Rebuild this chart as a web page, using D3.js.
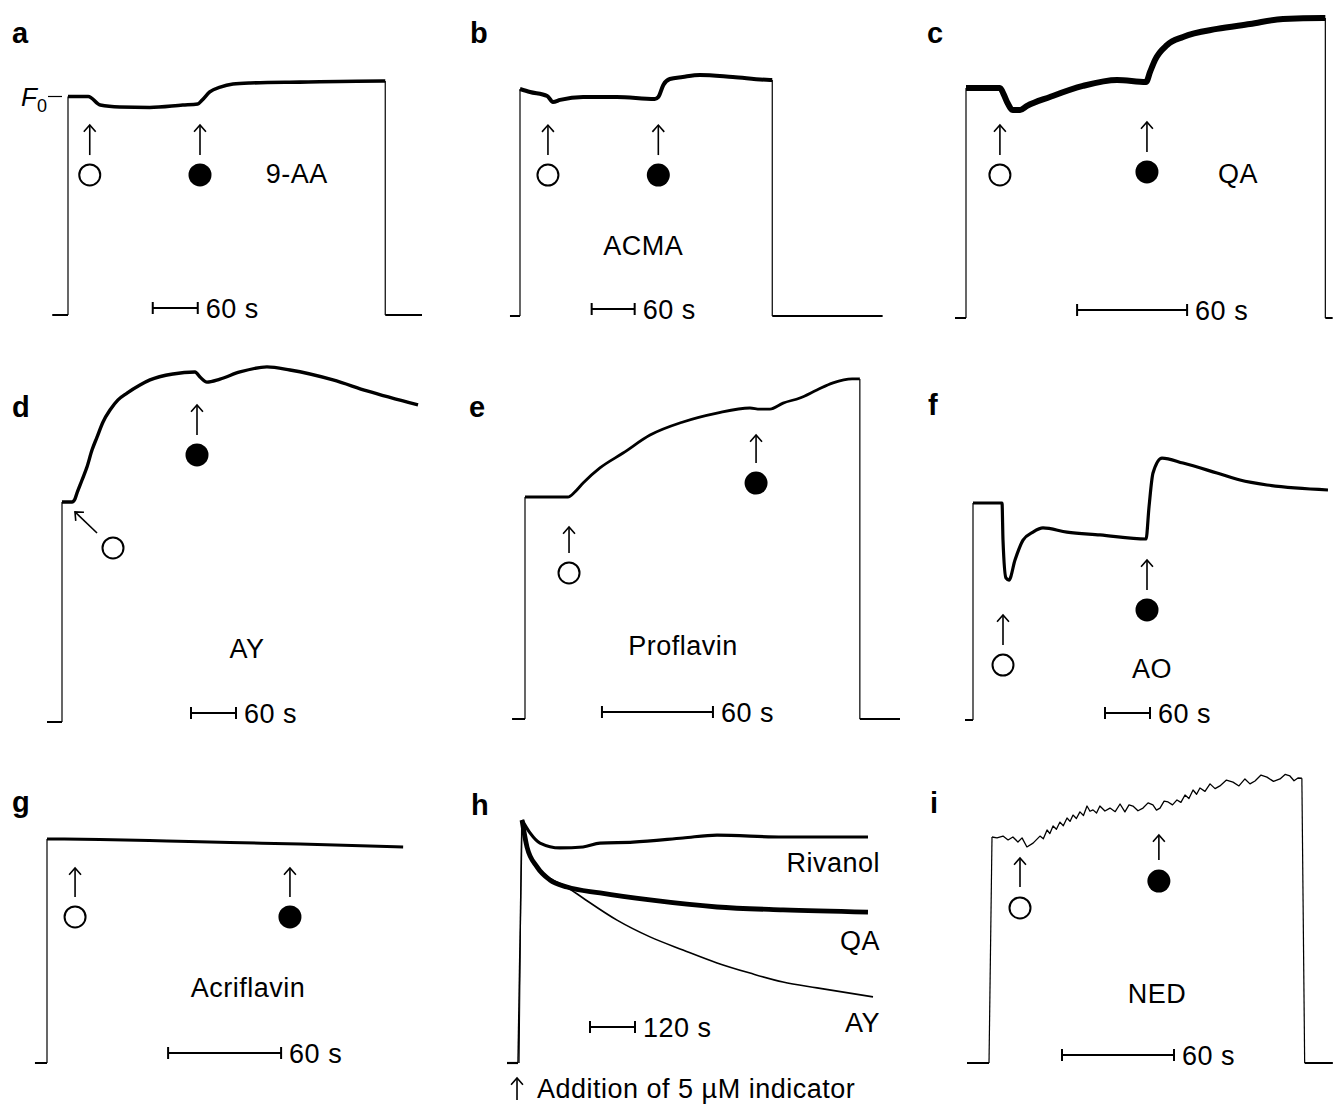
<!DOCTYPE html>
<html><head><meta charset="utf-8">
<script src="https://cdn.jsdelivr.net/npm/d3@7"></script>
<style>body{margin:0;background:#fff}svg{display:block}</style>
</head><body>
<script>
// ---------- DATA (time in s from light-on, F = % of initial fluorescence, dark = 0) ----------
const panelLetters = ["a","b","c","d","e","f","g","h","i"];
const indicatorNames = ["9-AA","ACMA","QA","AY","Proflavin","AO","Acriflavin","","NED"];
const scaleBarSeconds = [60,60,60,60,60,60,60,120,60];
const scaleBarLabels = ["60 s","60 s","60 s","60 s","60 s","60 s","60 s","120 s","60 s"];
// times of the additions (open circle, filled circle)
const openAddTimes = [29,39,18.5,17.3,23.8,40,14.9,null,15];
const filledAddTimes = [176,193,98.7,180,124.9,232,129,null,89.4];

const darkA=[[-21,0],[0,0]], afterA=[[423,0],[472,0]];
const traceA=[[0,100],[27,100],[43,96.1],[69,95.2],[109,95.0],[153,96.1],[173,96.6],[179,98.4],[189,102.1],[203,104.3],[220,105.7],[243,106.2],[309,106.6],[420,107.1],[423,107.1]];
const darkB=[[-14,0],[0,0]], afterB=[[352,0],[506,0]];
const traceB=[[0,100],[14,98.7],[38,96.9],[46,94.3],[56,95.2],[88,96.5],[135,96.5],[188,95.6],[193,96.5],[200,101.8],[209,104.4],[227,105.3],[251,106.2],[297,105.3],[349,104.0],[352,104]];
const darkC=[[-6,0],[0,0]], afterC=[[196,0],[200,0]];
const traceC=[[0,100],[18.5,100],[20.7,97],[22.4,93.9],[25.6,90.4],[29.5,90.4],[33.3,92.2],[45.8,96.1],[63.8,100.9],[82.4,103.5],[98.2,102.6],[100.4,107],[103.1,112.2],[109.7,118.7],[118.4,122.2],[136.9,125.7],[154.9,127.8],[172.9,130],[194.8,130.4],[196,130.4]];
const darkD=[[-20,0],[0,0]], afterD=[];
const traceD=[[0,100],[13.3,100],[17.3,101.4],[20,104.1],[26.7,110],[33.3,115.9],[40,123.6],[46.7,129.5],[54.7,136.4],[64,141.8],[74.7,146.4],[86.7,149.5],[104,153.2],[117.3,155.5],[148,158.2],[177.3,159.1],[184,156.8],[193.3,154.5],[210.7,155.9],[237.3,159.1],[273.3,161.4],[304,160],[361.3,155.5],[406.7,150.5],[474.7,144.1]];
const darkE=[[-7,0],[0,0]], afterE=[[181,0],[202.7,0]];
const traceE=[[0,100],[23.2,100],[27,102.3],[31.4,106.3],[40.5,113.1],[53,119.8],[67.6,127.9],[85.4,133.8],[103.8,137.8],[121.6,140.1],[127,139.6],[132.4,139.6],[139.5,142.3],[148.6,144.6],[157.8,148.2],[166.5,151.4],[176.8,153.2],[181,153.2]];
const darkF=[[-10.7,0],[0,0]], afterF=[];
const traceF=[[0,100],[38.7,100],[40,82.9],[44,65.4],[48,64.5],[56,73.7],[66.7,82.9],[80,86.6],[93.3,88.5],[125.3,86.6],[169.3,85.3],[230.7,83.4],[234.7,98.2],[240,113.8],[252,120.7],[280,118.4],[325.3,113.8],[356,110.6],[392,108.3],[473.3,106]];
const darkG=[[-6.4,0],[0,0]], afterG=[];
const traceG=[[0,100],[28.1,99.8],[63.7,99.1],[97.2,98.4],[134.4,97.8],[189.1,96.4]];
const darkH=[[-29.3,0],[0,0]];
const traceRivanol=[[10.7,100],[32,94.7],[58.7,90.5],[112,88.5],[173.3,88.9],[218.7,90.5],[306.7,90.9],[440,92.6],[530.7,93.8],[706.7,93],[933.3,93]];
const traceQA=[[10.7,100],[24,88.9],[50.7,80.7],[85.3,75.3],[130.7,72.4],[218.7,70],[352,67.1],[530.7,64.2],[706.7,63],[933.3,62.1]];
const traceAY=[[10.7,100],[32,84.8],[66.7,78.2],[130.7,72.4],[173.3,67.9],[264,58.8],[352,51.9],[440,46.5],[530.7,41.2],[618.7,37],[706.7,33.3],[797.3,30.9],[946.7,27.2]];
const hSeriesNames = ["Rivanol","QA","AY"];
const darkI=[[-13.4,0],[-1.6,0]], afterI=[[167.5,0],[182.6,0]];
const traceI=[[0,100],[2.7,99.6],[5.9,100.4],[8.6,98.7],[11.2,100],[13.9,97.8],[16.1,99.6],[18.7,95.6],[22,97.3],[25.7,100.4],[27.5,99.2],[29.5,103.1],[31,101.5],[32.7,104.9],[34.5,103.4],[36.4,106.6],[38.2,105],[40.2,108.4],[41.8,106.9],[43.4,109.7],[45.2,108.2],[47.1,111.1],[49,109.5],[50.9,113.7],[52.5,111.4],[54.1,112],[56,110.6],[57.8,113.7],[60.5,111.5],[63.2,112.8],[66,111.2],[68.6,114.6],[71.2,111.1],[73.4,114.2],[75.5,113.7],[78.2,111.6],[80.9,112.8],[83.6,115.1],[86.2,114.2],[88.1,111.9],[90,112.8],[92.2,115.9],[94.3,115.5],[96.7,114.2],[99.1,116.4],[101.2,115.3],[103.4,118.6],[105.5,117],[107.7,120.8],[109.6,118.9],[111.4,121.7],[114.1,120.2],[116.8,123.5],[119.5,121.4],[122.1,122.6],[125.6,125.2],[129.1,124.3],[132.3,122.6],[135.5,125.7],[138.2,123.5],[140.9,124.8],[144.1,127.4],[147.3,126.5],[150.8,124.6],[154.3,125.7],[157,127.7],[159.6,127],[161.8,124.9],[163.9,126.1],[166,126]];

// ---------- LAYOUT ----------
const FONT = "'Liberation Sans', Arial, Helvetica, sans-serif";
const FS = 27, LS = 0.5;
const W = 1333, H = 1104;
const svg = d3.select("body").append("svg").attr("width", W).attr("height", H);

const layout = [
 {x0:68, px:45, yDark:315, yRef:96.5, dark:darkA, after:afterA, trace:traceA, sw:3.6,
  open:{tip:87,tail:73.2,circ:64.1}, fill:{tip:87,tail:73.2,circ:64.1},
  name:{t:305,F:60.4}, bar:{t:113,F:3.2}, letter:[12,43]},
 {x0:520, px:43, yDark:316, yRef:89, dark:darkB, after:afterB, trace:traceB, sw:4,
  open:{tip:84.1,tail:70.9,circ:62.1}, fill:{tip:84.1,tail:70.9,circ:62.1},
  name:{t:172,F:26.9}, bar:{t:100,F:3.1}, letter:[470,43]},
 {x0:966, px:110, yDark:318, yRef:88, dark:darkC, after:afterC, trace:traceC, sw:6,
  open:{tip:83.9,tail:70.9,circ:62.2}, fill:{tip:85.2,tail:72.2,circ:63.5},
  name:{t:148.4,F:58.7}, bar:{t:60.6,F:3.5}, letter:[927,43]},
 {x0:62, px:45, yDark:722, yRef:502, dark:darkD, after:afterD, trace:traceD, sw:3.4,
  openDiag:{tip:[17.3,95.5],tail:[46.7,85.9],circ:[68,79.1]}, fill:{tip:144.1,tail:130.5,circ:121.4},
  name:{t:246.7,F:29.1}, bar:{t:172,F:4.1}, letter:[12,417]},
 {x0:525, px:111, yDark:719, yRef:497, dark:darkE, after:afterE, trace:traceE, sw:2.8,
  open:{tip:86.5,tail:74.8,circ:65.8}, fill:{tip:127.9,tail:115.3,circ:106.3},
  name:{t:85.4,F:28.8}, bar:{t:41.6,F:3.2}, letter:[469,417]},
 {x0:973, px:45, yDark:720, yRef:503, dark:darkF, after:afterF, trace:traceF, sw:3.2,
  open:{tip:48.4,tail:34.6,circ:25.3}, fill:{tip:73.7,tail:59.9,circ:50.7},
  name:{t:238.7,F:19.4}, bar:{t:176,F:3.2}, letter:[928,415]},
 {x0:47, px:113, yDark:1063, yRef:839, dark:darkG, after:afterG, trace:traceG, sw:3,
  open:{tip:87.1,tail:74.1,circ:65.2}, fill:{tip:87.1,tail:74.1,circ:65.2},
  name:{t:106.7,F:29.5}, bar:{t:64.3,F:4.5}, letter:[12,812]},
 {x0:518, px:45, yDark:1063, yRef:820, dark:darkH, after:[], trace:null, sw:3,
  bar:{t:192,F:14.8}, letter:[471,815]},
 {x0:992, px:112, yDark:1063, yRef:837, dark:darkI, after:afterI, trace:traceI, sw:1.3,
  open:{tip:90.7,tail:77.9,circ:68.6}, fill:{tip:100.9,tail:89.8,circ:80.5},
  name:{t:88.4,F:26.5}, bar:{t:37.5,F:3.5}, letter:[930,813]}
];

function drawArrow(g, x1, y1, x2, y2) { // tail (x1,y1) -> tip (x2,y2)
  g.append("line").attr("x1",x1).attr("y1",y1).attr("x2",x2).attr("y2",y2)
    .attr("stroke","#000").attr("stroke-width",1.6);
  const a = Math.atan2(y2-y1, x2-x1), L = 9, sp = 0.72;
  const p1 = [x2 - L*Math.cos(a-sp), y2 - L*Math.sin(a-sp)];
  const p2 = [x2 - L*Math.cos(a+sp), y2 - L*Math.sin(a+sp)];
  g.append("path").attr("d",`M${p1}L${x2},${y2}L${p2}`)
    .attr("fill","none").attr("stroke","#000").attr("stroke-width",1.6);
}
function addText(g, xx, yy, str, anchor) {
  return g.append("text").attr("x", xx).attr("y", yy).attr("text-anchor", anchor || "start")
    .attr("font-family",FONT).attr("font-size",FS).attr("letter-spacing",LS).text(str);
}

layout.forEach((p, i) => {
  const x = d3.scaleLinear().domain([0, scaleBarSeconds[i]]).range([p.x0, p.x0 + p.px]);
  const y = d3.scaleLinear().domain([0, 100]).range([p.yDark, p.yRef]);
  const lin = d3.line().x(d => x(d[0])).y(d => y(d[1]));
  const smooth = d3.line().x(d => x(d[0])).y(d => y(d[1])).curve(d3.curveMonotoneX);
  const g = svg.append("g");

  if (p.trace) {
    const tr = p.trace;
    // dark baseline + light-on edge
    g.append("path").attr("d", lin(p.dark)).attr("fill","none").attr("stroke","#000").attr("stroke-width",2);
    g.append("path").attr("d", lin([p.dark[p.dark.length-1], tr[0]])).attr("fill","none")
      .attr("stroke","#000").attr("stroke-width",1.2);
    if (p.after.length) {
      g.append("path").attr("d", lin([tr[tr.length-1], p.after[0]])).attr("fill","none")
        .attr("stroke","#000").attr("stroke-width",1.2);
      g.append("path").attr("d", lin(p.after)).attr("fill","none").attr("stroke","#000").attr("stroke-width",2);
    }
    g.append("path").attr("d", (i === 8 ? lin : smooth)(tr)).attr("fill","none").attr("stroke","#000")
      .attr("stroke-width",p.sw).attr("stroke-linejoin","round");
  } else {
    // panel h: three traces from a common rise
    const series = [traceRivanol, traceQA, traceAY];
    const widths = [3.2, 4.8, 1.6];
    g.append("path").attr("d", lin(p.dark)).attr("fill","none").attr("stroke","#000").attr("stroke-width",2.2);
    g.append("path").attr("d", lin([p.dark[p.dark.length-1], series[0][0]])).attr("fill","none")
      .attr("stroke","#000").attr("stroke-width",1.5);
    g.append("path").attr("d", lin([[3,0],[9.5,100]])).attr("fill","none").attr("stroke","#000").attr("stroke-width",1);
    series.forEach((s, k) => {
      g.append("path").attr("d", smooth(s)).attr("fill","none").attr("stroke","#000")
        .attr("stroke-width",widths[k]).attr("stroke-linejoin","round");
    });
    const labT = 965.3, labF = [78.6, 46.5, 12.8];
    hSeriesNames.forEach((n, k) => addText(g, x(labT), y(labF[k]), n, "end"));
    // addition note
    const nx = x(-21.3), ny = y(-14.4);
    drawArrow(g, nx + 7, ny + 2, nx + 7, ny - 20);
    addText(g, nx + 27, ny, "Addition of 5 \u00B5M indicator");
  }

  // addition markers
  if (p.open) {
    const t = openAddTimes[i];
    drawArrow(g, x(t), y(p.open.tail), x(t), y(p.open.tip));
    g.append("circle").attr("cx", x(t)).attr("cy", y(p.open.circ)).attr("r",10.5)
      .attr("fill","#fff").attr("stroke","#000").attr("stroke-width",2);
  }
  if (p.openDiag) {
    const o = p.openDiag;
    drawArrow(g, x(o.tail[0]), y(o.tail[1]), x(o.tip[0]), y(o.tip[1]));
    g.append("circle").attr("cx", x(o.circ[0])).attr("cy", y(o.circ[1])).attr("r",10.5)
      .attr("fill","#fff").attr("stroke","#000").attr("stroke-width",2);
  }
  if (p.fill) {
    const t = filledAddTimes[i];
    drawArrow(g, x(t), y(p.fill.tail), x(t), y(p.fill.tip));
    g.append("circle").attr("cx", x(t)).attr("cy", y(p.fill.circ)).attr("r",11.5).attr("fill","#000");
  }

  // indicator name
  if (p.name && indicatorNames[i]) addText(g, x(p.name.t), y(p.name.F), indicatorNames[i], "middle");

  // scale bar
  const bx1 = x(p.bar.t), bx2 = x(p.bar.t + scaleBarSeconds[i]), by = y(p.bar.F);
  g.append("path").attr("d", `M${bx1},${by-6}V${by+6}M${bx1},${by}H${bx2}M${bx2},${by-6}V${by+6}`)
    .attr("fill","none").attr("stroke","#000").attr("stroke-width",2);
  addText(g, bx2 + 8, by + 10, scaleBarLabels[i]);

  // panel letter
  g.append("text").attr("x", p.letter[0]).attr("y", p.letter[1]).attr("font-family",FONT)
    .attr("font-weight","bold").attr("font-size",29).text(panelLetters[i]);

  // F0 label on panel a
  if (i === 0) {
    const yf = y(100);
    g.append("line").attr("x1",48).attr("x2",62).attr("y1",yf).attr("y2",yf).attr("stroke","#000").attr("stroke-width",1.2);
    const t = g.append("text").attr("x",21).attr("y",yf+9).attr("font-family",FONT).attr("font-size",26)
      .attr("font-style","italic").text("F");
    t.append("tspan").attr("font-style","normal").attr("font-size",18).attr("dy",6).text("0");
  }
});
</script>
</body></html>
